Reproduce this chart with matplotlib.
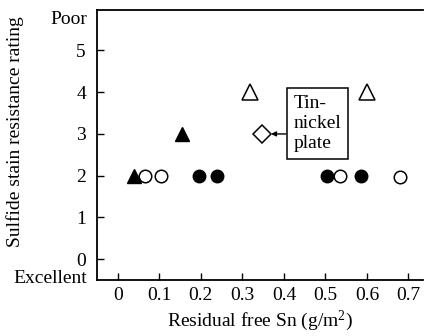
import matplotlib
matplotlib.use("Agg")
import matplotlib.pyplot as plt

plt.rcParams["font.family"] = ["Liberation Serif", "DejaVu Serif"]
plt.rcParams["mathtext.fontset"] = "custom"
plt.rcParams["mathtext.rm"] = "Liberation Serif"

# Residual free Sn (g/m2) and sulfide stain rating, by marker group
filled_tri_x = [0.04, 0.155]
filled_tri_y = [2, 3]
open_circ_x = [0.065, 0.105, 0.535, 0.68]
open_circ_y = [2, 2, 2, 1.97]
filled_circ_x = [0.195, 0.24, 0.505, 0.585]
filled_circ_y = [2, 2, 2, 2]
open_tri_x = [0.318, 0.60]
open_tri_y = [4, 4]
diamond_x = [0.347]
diamond_y = [3]

x_ticks = [0, 0.1, 0.2, 0.3, 0.4, 0.5, 0.6, 0.7]
y_ticks = [0, 1, 2, 3, 4, 5]

FS = 14

fig = plt.figure(figsize=(4.25, 3.36), dpi=100)
ax = fig.add_axes([97 / 425, 56 / 336, 326 / 425, 270 / 336])

ax.plot(filled_tri_x, filled_tri_y, "^", color="black", ms=10.5, ls="none")
ax.plot(open_circ_x, open_circ_y, "o", mfc="white", mec="black", mew=1.1, ms=9, ls="none")
ax.plot(filled_circ_x, filled_circ_y, "o", color="black", ms=9, ls="none")
ax.plot(open_tri_x, open_tri_y, "^", mfc="white", mec="black", mew=1.1, ms=11.5, ls="none")
ax.plot(diamond_x, diamond_y, "D", mfc="white", mec="black", mew=1.1, ms=9, ls="none")

# label box for the tin-nickel point, with a short arrow back to the diamond
ax.text(0.424, 3.25, "Tin-\nnickel\nplate", ha="left", va="center", fontsize=FS,
        linespacing=1.25,
        bbox=dict(boxstyle="square,pad=0.35", fc="white", ec="black", lw=1.1))
ax.annotate("", xy=(diamond_x[0] + 0.022, diamond_y[0]), xytext=(0.405, 3.0),
            arrowprops=dict(arrowstyle="-|>", color="black", lw=1.0,
                            mutation_scale=7, shrinkA=0, shrinkB=0))

ax.set_xlim(-0.05, 0.735)
ax.set_ylim(-0.5, 5.97)
ax.set_xticks(x_ticks)
ax.set_xticklabels(["0" if v == 0 else f"{v:.1f}" for v in x_ticks], fontsize=FS)
ax.set_yticks(y_ticks)
ax.set_yticklabels([str(v) for v in y_ticks], fontsize=FS)
ax.tick_params(direction="in", length=5, width=1.0)
ax.tick_params(axis="y", pad=8)
ax.tick_params(axis="x", pad=5)

ax.spines["right"].set_visible(False)
for side in ("left", "bottom", "top"):
    ax.spines[side].set_linewidth(1.3)

ax.text(-0.03, 5.75, "Poor", transform=ax.get_yaxis_transform(),
        ha="right", va="center", fontsize=FS)
ax.text(-0.03, -0.47, "Excellent", transform=ax.get_yaxis_transform(),
        ha="right", va="center", fontsize=FS)

fig.text((97 + 163) / 425, 1 - 321 / 336, r"Residual free Sn (g/m$\mathregular{^2}$)",
         ha="center", va="center", fontsize=FS)
fig.text(0.035, 1 - 132 / 336, "Sulfide stain resistance rating",
         rotation=90, ha="center", va="center", fontsize=FS)

fig.savefig("out.png", dpi=100, facecolor="white")
